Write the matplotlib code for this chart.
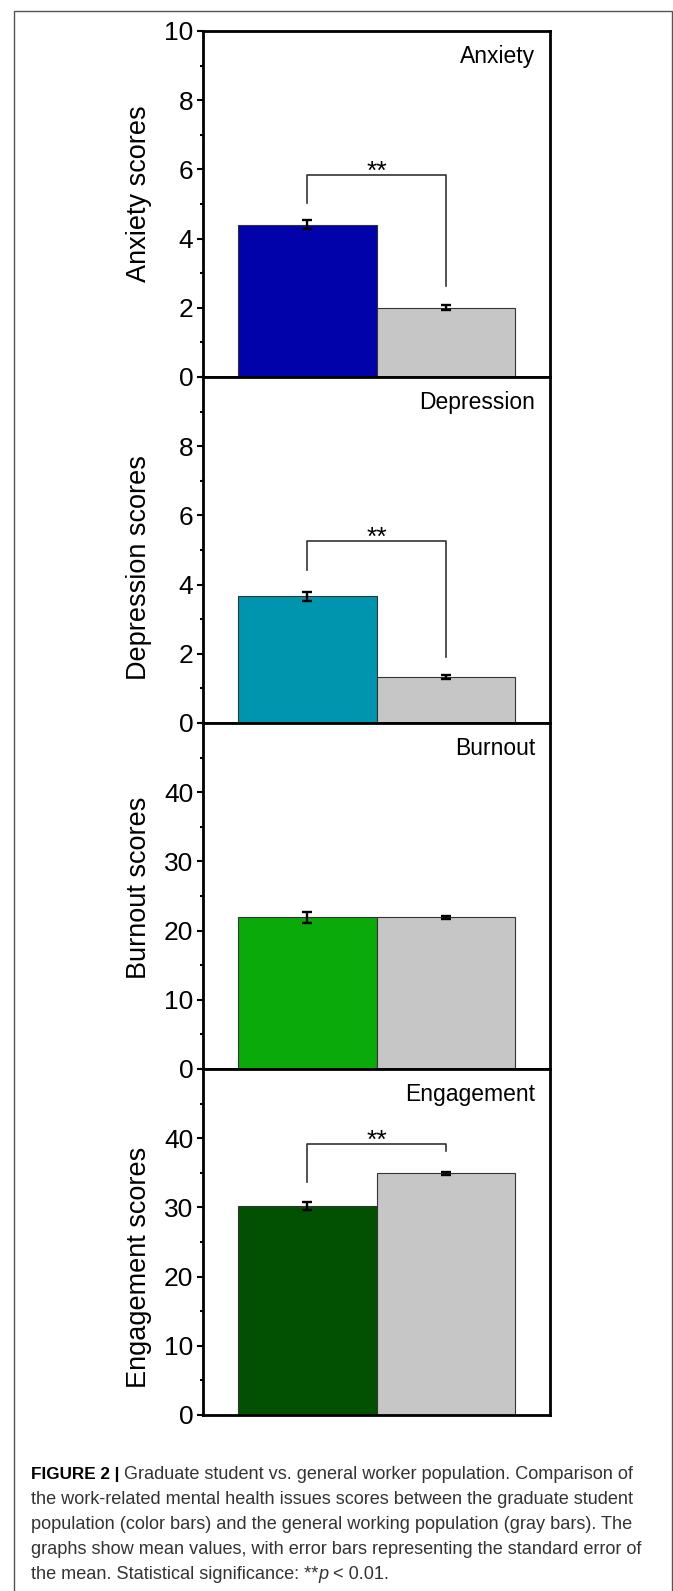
import numpy as np
import matplotlib
matplotlib.use("Agg")
import matplotlib.pyplot as plt
from matplotlib.patches import Rectangle
from matplotlib.ticker import MultipleLocator, FixedLocator

plt.rcParams['font.family'] = ['Liberation Sans', 'DejaVu Sans']

# data: graduate students (colour) vs general workers (gray)
panels = ['Anxiety', 'Depression', 'Burnout', 'Engagement']
ylabels = ['Anxiety scores', 'Depression scores', 'Burnout scores', 'Engagement scores']
student_mean = [4.4, 3.66, 21.9, 30.25]
student_sem = [0.13, 0.12, 0.8, 0.6]
worker_mean = [2.0, 1.33, 21.9, 34.9]
worker_sem = [0.07, 0.06, 0.2, 0.15]
colors = ['#0202AA', '#0095AF', '#09AA09', '#025102']
gray = '#C6C6C6'
y_max = [10, 10, 50, 50]
major_step = [2, 2, 10, 10]
# significance brackets: (top, left leg end, right leg end), None = no bracket
brackets = [(5.85, 5.03, 2.63), (5.27, 4.43, 1.91), None, (39.2, 33.7, 38.2)]

caption = [
    [("FIGURE 2 | ", "bold", "normal", "black"),
     ("Graduate student vs. general worker population. Comparison of", "normal", "normal", "#333333")],
    [("the work-related mental health issues scores between the graduate student", "normal", "normal", "#333333")],
    [("population (color bars) and the general working population (gray bars). The", "normal", "normal", "#333333")],
    [("graphs show mean values, with error bars representing the standard error of", "normal", "normal", "#333333")],
    [("the mean. Statistical significance: **", "normal", "normal", "#333333"),
     ("p", "normal", "italic", "#333333"),
     (" < 0.01.", "normal", "normal", "#333333")],
]

W, H = 673, 1591
fig = plt.figure(figsize=(W / 100, H / 100), dpi=100)

# outer frame of the figure box
fig.patches.append(Rectangle((14 / W, -0.05), 658 / W, 1.05 - 11 / H,
                             transform=fig.transFigure, fill=False,
                             edgecolor='#555555', linewidth=1.0))

ax_left, ax_w = 203 / W, 347 / W
panel_h = 346
top0 = 31
label_y = [0.529, 0.448, 0.523, 0.428]   # y-labels are not exactly centred

x = np.array([0, 1])
for i in range(4):
    bottom_px = top0 + panel_h * (i + 1)
    ax = fig.add_axes([ax_left, 1 - bottom_px / H, ax_w, panel_h / H])
    ax.bar(x, [student_mean[i], worker_mean[i]], width=1.0,
           color=[colors[i], gray], edgecolor='#333333', linewidth=0.8, zorder=2)
    ax.errorbar(x, [student_mean[i], worker_mean[i]],
                yerr=[student_sem[i], worker_sem[i]], fmt='none',
                ecolor='black', elinewidth=1.7, capsize=3.5, capthick=1.7, zorder=3)
    ax.set_xlim(-0.75, 1.75)
    ax.set_ylim(0, y_max[i])
    ticks = np.arange(0, y_max[i] + 0.1, major_step[i])
    if i > 0:
        ticks = ticks[:-1]
    ax.yaxis.set_major_locator(FixedLocator(ticks))
    ax.yaxis.set_minor_locator(MultipleLocator(major_step[i] / 2))
    ax.set_yticklabels([str(int(t)) for t in ticks])
    ax.set_xticks([])
    ax.tick_params(axis='y', which='major', direction='out', length=4,
                   width=1.5, pad=3, labelsize=19)
    ax.tick_params(axis='y', which='minor', direction='out', length=2, width=1.5)
    for s in ax.spines.values():
        s.set_linewidth(2.0)
    ax.set_ylabel(ylabels[i], fontsize=19.5)
    ax.yaxis.set_label_coords(-0.147, label_y[i])
    ax.text(0.957, 0.925, panels[i], transform=ax.transAxes,
            ha='right', va='center', fontsize=16.5)
    b = brackets[i]
    if b is not None:
        top, l_end, r_end = b
        ax.plot([0, 0, 1, 1], [l_end, top, top, r_end], color='#333333',
                linewidth=1.2, zorder=1)
        ax.annotate('**', (0.5, top), xytext=(0, -3), textcoords='offset points',
                    ha='center', va='baseline', fontsize=19)

# caption, line by line with mixed styles
fig.canvas.draw()
renderer = fig.canvas.get_renderer()
baselines = [1479, 1504, 1529, 1554, 1579]
for line, yb in zip(caption, baselines):
    xpos = 31 / W
    for txt, weight, style, col in line:
        size = 12.3 if weight == 'bold' else 13.1
        t = fig.text(xpos, 1 - yb / H, txt, fontsize=size, fontweight=weight,
                     fontstyle=style, color=col, ha='left', va='baseline')
        bb = t.get_window_extent(renderer)
        xpos = bb.x1 / W

fig.savefig("out.png", dpi=100)
